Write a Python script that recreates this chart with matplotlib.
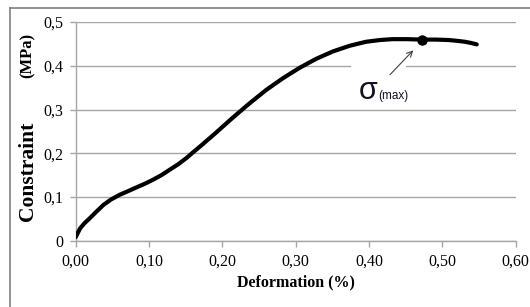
import matplotlib.pyplot as plt
from matplotlib.patches import Rectangle
from matplotlib.lines import Line2D

# Stress-strain curve
deformation = [0.000, 0.003, 0.006, 0.012, 0.019, 0.028, 0.038, 0.048, 0.060, 0.071,
               0.083, 0.094, 0.105, 0.117, 0.128, 0.140, 0.151, 0.160, 0.170, 0.192,
               0.214, 0.237, 0.260, 0.283, 0.305, 0.328, 0.351, 0.374, 0.396, 0.415,
               0.432, 0.452, 0.472, 0.491, 0.509, 0.521, 0.531, 0.540, 0.547]
constraint = [0.008, 0.018, 0.028, 0.040, 0.051, 0.066, 0.082, 0.094, 0.105, 0.113,
              0.122, 0.130, 0.139, 0.150, 0.162, 0.175, 0.189, 0.202, 0.216, 0.248,
              0.281, 0.314, 0.345, 0.372, 0.395, 0.416, 0.433, 0.446, 0.455, 0.459,
              0.461, 0.461, 0.460, 0.460, 0.459, 0.457, 0.455, 0.452, 0.449]
max_point = (0.472, 0.460)

x_ticks = [0.0, 0.1, 0.2, 0.3, 0.4, 0.5, 0.6]
x_labels = ["0,00", "0,10", "0,20", "0,30", "0,40", "0,50", "0,60"]
y_ticks = [0.0, 0.1, 0.2, 0.3, 0.4, 0.5]
y_labels = ["0", "0,1", "0,2", "0,3", "0,4", "0,5"]

serif = ["Liberation Serif", "DejaVu Serif"]
sans = ["Liberation Sans", "DejaVu Sans"]
grey = "#a6a6a6"

fig = plt.figure(figsize=(5.3, 3.07), dpi=100)
ax = fig.add_axes([0.1428, 0.216, 0.830, 0.712])

ax.plot(deformation, constraint, color="black", lw=3, solid_capstyle="round",
        solid_joinstyle="round", zorder=3)
ax.plot(*max_point, "o", color="black", ms=6.5, zorder=4)

ax.set_xlim(0, 0.6)
ax.set_ylim(0, 0.5)
ax.set_xticks(x_ticks)
ax.set_xticklabels(x_labels, fontfamily=serif, fontsize=11.5)
ax.set_yticks(y_ticks)
ax.set_yticklabels(y_labels, fontfamily=serif, fontsize=11.5)
ax.tick_params(axis="both", color=grey, length=4, width=1, pad=5)

ax.grid(axis="y", color=grey, lw=1)
ax.set_axisbelow(True)
for s in ["top", "right"]:
    ax.spines[s].set_visible(False)
for s in ["left", "bottom"]:
    ax.spines[s].set_color(grey)
    ax.spines[s].set_linewidth(1)

# white patch hiding the 0.4 gridline behind the label box
ax.add_patch(Rectangle((0.375, 0.39), 0.076, 0.02, facecolor="white",
                       edgecolor="none", zorder=1.5))

ax.annotate("", xy=(0.463, 0.440), xytext=(0.426, 0.375),
            arrowprops=dict(arrowstyle="->", color="#404040", lw=0.8), zorder=5)
ax.text(0.399, 0.325, "σ", fontfamily=sans, fontsize=22, color="#111122",
        ha="center", va="baseline")
ax.text(0.4125, 0.325, "(max)", fontfamily=sans, fontsize=8.5, color="#111122",
        ha="left", va="baseline")

ax.set_xlabel("Deformation (%)", fontfamily=serif, fontsize=11.5, fontweight="bold", labelpad=4)

fig.text(0.053, 0.443, "Constraint", rotation=90, fontfamily=serif, fontsize=15.5,
         fontweight="bold", ha="center", va="center")
fig.text(0.053, 0.818, "(MPa)", rotation=90, fontfamily=serif, fontsize=12,
         fontweight="bold", ha="center", va="center")

# outer chart frame (left and top edges)
fig.add_artist(Line2D([10 / 530, 10 / 530], [0, 1 - 8 / 307], color="#808080", lw=1.2,
                      transform=fig.transFigure))
fig.add_artist(Line2D([10 / 530, 1], [1 - 8 / 307, 1 - 8 / 307], color="#808080", lw=1.2,
                      transform=fig.transFigure))

fig.savefig("out.png", dpi=100)
